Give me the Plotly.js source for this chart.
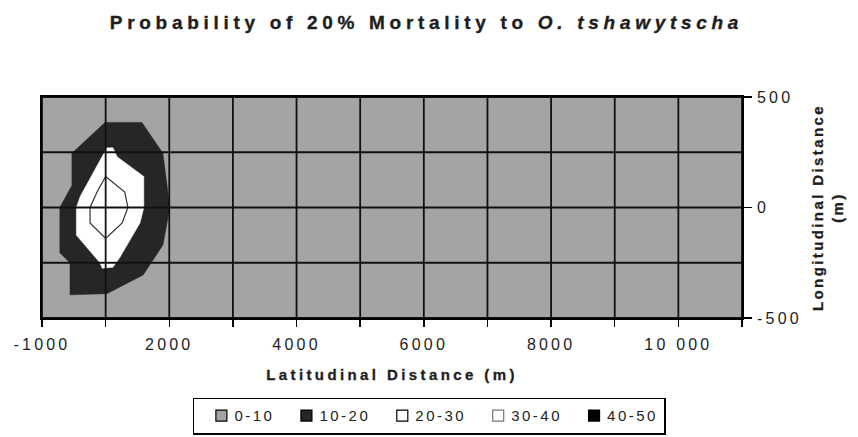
<!DOCTYPE html>
<html>
<head>
<meta charset="utf-8">
<script src="https://cdn.plot.ly/plotly-3.0.1.min.js"></script>
<style>
  html, body { margin: 0; padding: 0; background: #fff; }
  #chart { width: 858px; height: 437px; }
  .gtitle { letter-spacing: 4.7px; stroke: #1e1e1e; stroke-width: 0.35px; }
  .xtick text, .ytick text { letter-spacing: 3.2px; }
  .xtitle { letter-spacing: 3.4px; stroke: #1e1e1e; stroke-width: 0.3px; }
  .ytitle { letter-spacing: 2.4px; stroke: #1e1e1e; stroke-width: 0.3px; }
  .legendtext { letter-spacing: 2.5px; }
  #chart .legendsymbols { transform: translateX(7px); }
</style>
</head>
<body>
<div id="chart"></div>
<script>
// ---- data ----
const xTickVals   = [0, 1000, 2000, 3000, 4000, 5000, 6000, 7000, 8000, 9000, 10000, 11000];
const xTickLabels = ["-1000", "", "2000", "", "4000", "", "6000", "", "8000", "", "10 000", ""];
const yTickVals   = [-500, 0, 500];
const yTickLabels = ["-500", "0", "500"];
const yGridVals   = [-500, -250, 0, 250, 500];

const bandNames  = ["0-10", "10-20", "20-30", "30-40", "40-50"];
const bandColors = ["#a4a4a4", "#262626", "#ffffff", "#ffffff", "#000000"];

// contour boundaries (latitudinal, longitudinal) in metres on the chart's axes
const band10_20_x = [990, 1570, 1900, 2010, 1900, 1590, 1020, 440, 440, 280, 280, 470, 470, 990];
const band10_20_y = [385, 385, 245, 0, -170, -305, -390, -395, -250, -205, 0, 100, 245, 385];
const band20_30_x = [1020, 1115, 1180, 1600, 1600, 1540, 1225, 1115, 945, 910, 540, 540, 600, 945, 1020];
const band20_30_y = [270, 270, 230, 140, 0, -70, -225, -270, -275, -250, -125, 0, 50, 235, 270];
const band30_40_x = [1000, 1300, 1350, 1260, 1000, 755, 755, 865, 1000];
const band30_40_y = [140, 70, 0, -70, -140, -70, 0, 70, 140];

const FONT = "Liberation Sans, Arial, sans-serif";
const TXT = "#1e1e1e";

const traces = [
  {x: band10_20_x, y: band10_20_y, type: "scatter", mode: "lines", fill: "toself",
   fillcolor: bandColors[1], line: {color: bandColors[1], width: 0.5}, showlegend: false, hoverinfo: "skip"},
  {x: band20_30_x, y: band20_30_y, type: "scatter", mode: "lines", fill: "toself",
   fillcolor: bandColors[2], line: {color: bandColors[2], width: 0.5}, showlegend: false, hoverinfo: "skip"},
  {x: band30_40_x, y: band30_40_y, type: "scatter", mode: "lines", fill: "toself",
   fillcolor: bandColors[3], line: {color: "#333333", width: 1.2}, showlegend: false, hoverinfo: "skip"}
];
// legend entries
bandNames.forEach((n, i) => {
  traces.push({x: [null], y: [null], type: "scatter", mode: "markers", name: n,
    marker: {symbol: "square", size: 11, color: bandColors[i],
             line: {color: i === 3 ? "#777777" : "#000000", width: 1.2}}});
});

const shapes = [];
xTickVals.forEach(v => shapes.push({type: "line", xref: "x", yref: "paper", x0: v, x1: v, y0: 0, y1: 1,
  line: {color: "#111", width: 1.8}, layer: "above"}));
yGridVals.forEach(v => shapes.push({type: "line", xref: "paper", yref: "y", x0: 0, x1: 1, y0: v, y1: v,
  line: {color: "#111", width: 1.8}, layer: "above"}));

const layout = {
  width: 858, height: 437,
  margin: {l: 42, r: 116, t: 97, b: 119, autoexpand: false},
  paper_bgcolor: "#ffffff",
  plot_bgcolor: bandColors[0],
  font: {family: FONT, size: 15, color: TXT},
  title: {text: "<b>Probability of 20% Mortality to <i>O. tshawytscha</i></b>",
          font: {family: FONT, size: 19, color: TXT}, x: 0.497, xanchor: "center", y: 0.948, yanchor: "middle"},
  xaxis: {range: [0, 11000], tickmode: "array", tickvals: xTickVals, ticktext: xTickLabels,
          ticks: "outside", ticklen: 7, tickwidth: 1.5, tickcolor: "#000", ticklabelstandoff: 4,
          showline: true, mirror: true, linecolor: "#000", linewidth: 1.8,
          showgrid: false, zeroline: false, fixedrange: true,
          tickfont: {family: FONT, size: 16, color: TXT},
          title: {text: "<b>Latitudinal Distance (m)</b>", font: {family: FONT, size: 15, color: TXT}, standoff: 17}},
  yaxis: {range: [-500, 500], side: "right", tickmode: "array", tickvals: yTickVals, ticktext: yTickLabels,
          ticks: "outside", ticklen: 8, tickwidth: 1.5, tickcolor: "#000", ticklabelstandoff: 2,
          showline: true, mirror: true, linecolor: "#000", linewidth: 1.8,
          showgrid: false, zeroline: false, fixedrange: true,
          tickfont: {family: FONT, size: 16, color: TXT},
          title: {text: "<b>Longitudinal Distance<br>(m)</b>", font: {family: FONT, size: 15, color: TXT}, standoff: 12}},
  legend: {orientation: "h", x: 0.553, xanchor: "center", y: -0.36, yanchor: "top",
           bordercolor: "#000", borderwidth: 1.8, bgcolor: "#fff",
           font: {family: FONT, size: 15, color: TXT}, itemclick: false, itemdoubleclick: false,
           tracegroupgap: 0},
  shapes: shapes,
  showlegend: true
};

Plotly.newPlot("chart", traces, layout, {staticPlot: true, displayModeBar: false});
</script>
</body>
</html>
